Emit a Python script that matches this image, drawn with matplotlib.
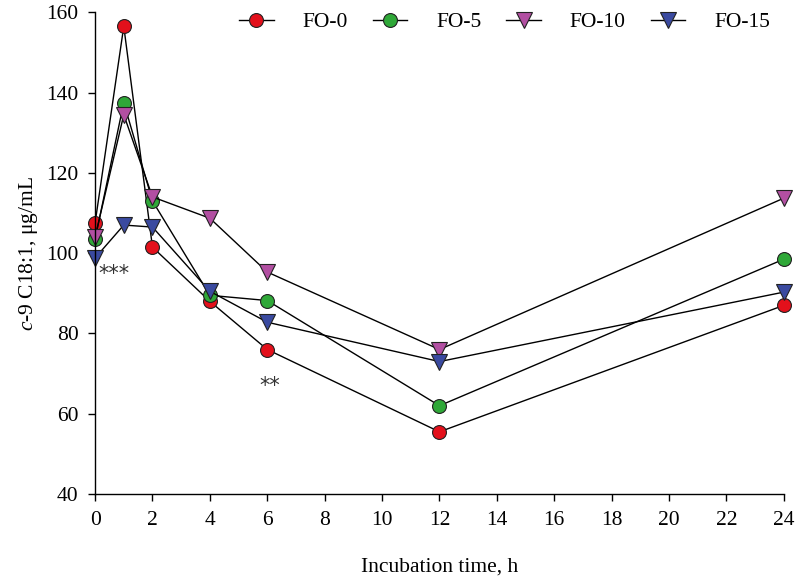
import matplotlib
matplotlib.use("Agg")
import matplotlib.pyplot as plt

plt.rcParams["font.family"] = ["Liberation Serif", "DejaVu Serif"]
plt.rcParams["mathtext.fontset"] = "custom"
plt.rcParams["mathtext.it"] = "Liberation Serif:italic"
plt.rcParams["mathtext.rm"] = "Liberation Serif"

hours = [0, 1, 2, 4, 6, 12, 24]
fo_0 = [107.5, 156.5, 101.5, 88.0, 76.0, 55.5, 87.0]
fo_5 = [103.5, 137.5, 113.0, 89.5, 88.2, 62.0, 98.5]
fo_10 = [104.0, 134.5, 114.0, 108.7, 95.3, 76.0, 113.7]
fo_15 = [98.8, 107.0, 106.5, 90.5, 82.8, 73.0, 90.3]

x_ticks = list(range(0, 25, 2))
y_ticks = list(range(40, 161, 20))

series = [
    ("FO-0", fo_0, "o", "#e3101b"),
    ("FO-5", fo_5, "o", "#2fa838"),
    ("FO-10", fo_10, "v", "#b24fa2"),
    ("FO-15", fo_15, "v", "#3a4aa0"),
]

fig = plt.figure(figsize=(7.99, 5.84), dpi=100)
ax = fig.add_axes([0.119, 0.154, 0.862, 0.825])

for name, vals, mk, col in series:
    ms = 10 if mk == "o" else 11
    ax.plot(hours, vals, color="black", lw=1, marker=mk, ms=ms,
            mfc=col, mec="#222222", mew=0.8, label=name, clip_on=False)

# significance marks
ax.text(0.1, 94.8, "***", fontsize=15, ha="left", va="center",
        color="#333333", family="DejaVu Sans")
ax.text(6.1, 67.0, "**", fontsize=15, ha="center", va="center",
        color="#333333", family="DejaVu Sans")

ax.set_xlim(0, 24)
ax.set_ylim(40, 160)
ax.set_xticks(x_ticks)
ax.set_yticks(y_ticks)
ax.tick_params(labelsize=15.5, direction="out", length=5, width=1, pad=7)
for s in ["top", "right"]:
    ax.spines[s].set_visible(False)
ax.spines["left"].set_linewidth(1)
ax.spines["bottom"].set_linewidth(1)

ax.set_xlabel("Incubation time, h", fontsize=15.5, labelpad=20)
ax.set_ylabel(r"$\mathit{c}$-9 C18:1, μg/mL", fontsize=15.5, labelpad=4)

ax.legend(loc="upper right", ncol=4, frameon=False, fontsize=15.5,
          handlelength=1.6, handletextpad=1.35, columnspacing=1.15,
          borderaxespad=0, borderpad=0, bbox_to_anchor=(0.98, 1.0))

fig.savefig("out.png", dpi=100)
